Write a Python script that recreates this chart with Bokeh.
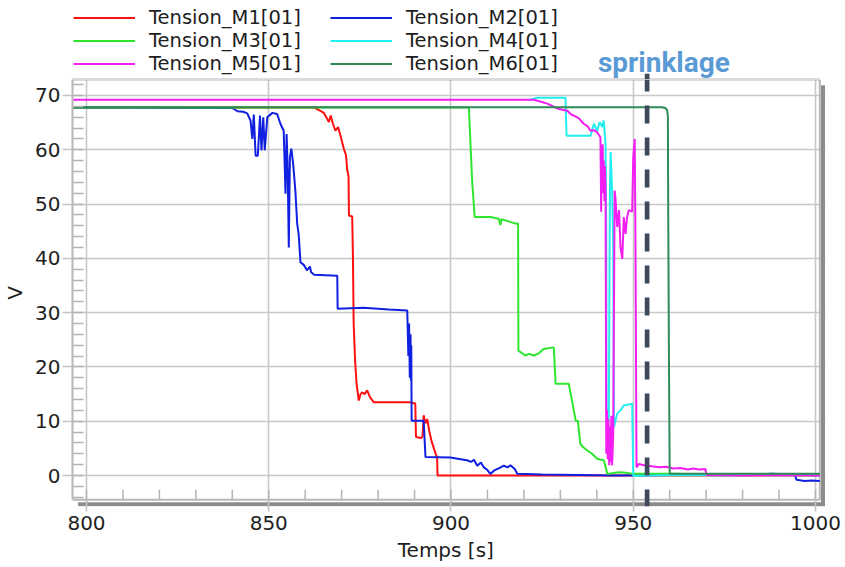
from bokeh.plotting import figure
from bokeh.models import Range1d, FixedTicker, Legend, LegendItem, Label, ColumnDataSource
from bokeh.layouts import column
from bokeh.embed import file_html
from bokeh.resources import INLINE

# ---------------- data ----------------
x_ticks = [800, 850, 900, 950, 1000]
y_ticks = [0, 10, 20, 30, 40, 50, 60, 70]
x_minor = list(range(800, 1001, 10))
y_minor = list(range(-4, 73, 2))

labels = ["Tension_M1[01]", "Tension_M2[01]", "Tension_M3[01]",
          "Tension_M4[01]", "Tension_M5[01]", "Tension_M6[01]"]
colors = ["#ff1010", "#1020e0", "#2ee62e", "#22eef0", "#f21ef2", "#2e8b57"]

t_m1 = [796.2, 862.4, 863.5, 864.3, 865.1, 865.8, 866.5, 867.0, 867.6, 868.3,
        869.0, 869.6, 870.6, 871.2, 871.5, 871.9, 872.0, 872.9, 873.1, 873.3,
        873.7, 874.1, 874.7, 875.2, 875.6, 876.3, 877.0, 877.8, 878.8, 888.8,
        889.8, 890.2, 890.4, 891.8, 892.2, 892.5, 893.0, 893.5, 894.0, 894.6,
        895.3, 895.9, 896.2, 896.3, 1001.2]
v_m1 = [67.8, 67.8, 67.4, 67.1, 66.8, 66.0, 65.1, 66.3, 64.8, 63.5,
        64.2, 62.8, 60.2, 59.0, 56.5, 55.0, 47.9, 47.7, 40.0, 27.9,
        21.0, 16.9, 13.8, 15.0, 15.3, 15.0, 15.7, 14.4, 13.5, 13.5,
        13.3, 13.3, 7.1, 6.9, 7.2, 11.1, 9.6, 10.4, 8.3, 6.5,
        5.0, 3.8, 3.4, 0.0, 0.0]

t_m2 = [796.2, 840.0, 841.4, 843.0, 844.1, 845.0, 845.5, 845.9, 846.4, 847.0,
        847.6, 848.0, 848.5, 848.9, 849.6, 851.0, 852.3, 853.2, 854.1, 854.6,
        854.9, 855.2, 855.5, 855.8, 856.2, 856.7, 857.3, 857.8, 858.2, 858.7,
        859.6, 860.5, 861.3, 861.6, 862.4, 868.8, 868.9, 876.0, 883.0, 888.0,
        888.3, 888.5, 888.7, 888.9, 889.0, 889.1, 889.2, 892.5, 893.0, 899.9,
        902.6, 904.4, 905.5, 906.3, 907.2, 908.2, 909.0, 910.0, 910.8, 912.0,
        913.1, 914.5, 915.5, 916.3, 917.5, 918.2, 925.0, 935.0, 945.0, 960.0,
        970.0, 980.0, 988.0, 994.3, 994.8, 997.0, 999.0, 1001.2]
v_m2 = [67.8, 67.7, 67.1, 67.0, 66.7, 65.4, 62.0, 66.5, 58.9, 58.9,
        66.3, 59.9, 66.0, 59.9, 66.0, 66.8, 66.6, 64.8, 63.5, 51.9,
        62.9, 56.2, 42.0, 58.6, 60.2, 57.4, 52.5, 46.4, 44.5, 39.3,
        38.8, 37.8, 38.5, 37.5, 37.0, 36.8, 30.7, 30.9, 30.6, 30.4,
        22.0, 28.0, 18.0, 26.0, 17.5, 24.0, 10.1, 10.1, 3.4, 3.3,
        3.0, 2.8, 2.5, 2.9, 1.8, 2.4, 1.5, 1.0, 0.3, 1.0,
        1.3, 1.8, 1.5, 1.9, 1.2, 0.3, 0.2, 0.1, 0.0, 0.1,
        0.2, 0.1, 0.3, 0.2, -0.8, -1.0, -0.9, -1.0]

t_m3 = [796.2, 904.9, 905.8, 906.5, 910.8, 913.1, 913.6, 913.8, 915.4, 917.7,
        918.4, 918.5, 920.4, 921.4, 922.7, 924.1, 925.4, 928.2, 928.7, 932.3,
        933.2, 934.2, 934.8, 935.5, 936.3, 937.4, 938.7, 940.1, 941.9, 942.9,
        946.0, 948.0, 950.0, 960.0, 980.0, 1001.2]
v_m3 = [67.8, 67.8, 54.3, 47.6, 47.6, 47.3, 46.1, 47.2, 46.9, 46.4,
        46.4, 23.0, 22.1, 22.4, 22.1, 22.5, 23.3, 23.6, 16.9, 16.9,
        13.8, 10.1, 10.1, 5.8, 5.2, 4.6, 4.0, 3.1, 2.8, 0.3,
        0.6, 0.5, 0.3, 0.3, 0.2, 0.2]

t_m4 = [921.5, 923.6, 931.4, 931.7, 938.3, 939.2, 940.1, 940.8, 941.5,
        941.9, 942.4, 942.6, 942.7, 943.0, 943.3, 943.6, 943.8, 944.2, 944.5,
        944.7, 945.6, 946.5, 947.4, 949.7, 950.0, 955.0, 965.0, 975.0, 990.0,
        1001.2]
v_m4 = [69.2, 69.6, 69.6, 62.6, 62.6, 64.8, 63.5, 65.1, 64.2,
        65.4, 61.1, 45.0, 12.6, 8.5, 11.0, 52.5, 59.6, 52.5, 42.0,
        8.9, 11.4, 12.0, 12.9, 13.2, -0.1, 0.0, 0.1, 0.0, 0.1,
        0.0]

t_m5 = [796.2, 922.7, 924.5, 926.4, 928.0, 929.6, 931.9, 933.0, 933.7, 934.5,
        935.1, 936.4, 937.5, 938.3, 939.3, 940.1, 941.0, 941.2, 941.3, 941.5,
        941.6, 941.8, 941.9, 942.1, 942.2, 942.4, 942.6, 942.8, 943.0, 943.2,
        943.4, 943.6, 943.8, 944.0, 944.2, 944.5, 944.9, 945.1, 945.6, 946.1,
        946.5, 947.0, 947.4, 947.9, 948.3, 948.8, 949.7, 950.0, 950.4, 950.6,
        950.9, 951.5, 953.0, 955.0, 957.0, 959.0, 961.0, 963.0, 965.0, 966.5,
        968.0, 969.8, 970.1, 980.0, 990.0, 1001.2]
v_m5 = [69.2, 69.2, 68.9, 68.5, 68.0, 67.5, 67.2, 66.5, 66.3, 66.0,
        65.8, 64.8, 64.3, 63.5, 63.6, 63.2, 62.3, 48.6, 60.0, 54.0,
        61.0, 52.0, 58.0, 50.5, 57.0, 53.1, 4.0, 12.0, 3.0, 10.4,
        1.9, 9.0, 2.5, 11.0, 1.9, 7.5, 52.5, 51.3, 45.8, 48.9,
        42.0, 39.9, 47.6, 44.5, 47.6, 48.9, 48.6, 58.6, 62.0, 44.5,
        1.5, 2.1, 1.9, 1.7, 1.5, 1.6, 1.3, 1.4, 1.1, 1.3,
        1.1, 1.2, 0.1, 0.0, 0.1, 0.0]

t_m6 = [796.2, 957.9, 958.8, 959.3, 959.5, 959.6, 959.8, 960.0, 980.0, 1001.2]
v_m6 = [67.85, 67.85, 67.7, 67.3, 66.2, 48.0, 21.0, 0.3, 0.3, 0.3]

series_t = [t_m1, t_m2, t_m3, t_m4, t_m5, t_m6]
series_v = [v_m1, v_m2, v_m3, v_m4, v_m5, v_m6]

sprinkler_t = 953.8
sprinkler_text = "sprinklage"
x_label = "Temps  [s]"
y_label = "V"

# ---------------- geometry ----------------
FONT = "DejaVu Sans"
W = 845
HEAD_H = 79          # band above the plot box (legend + annotation)
MAIN_H = 488
ML, MR, MB = 72, 20, 61
PXX = 3.645          # px per second
PXY = 5.4286         # px per volt
XL = 796.16
XR = XL + (W - ML - MR) / PXX
YT = 72.947
YB = YT - (MAIN_H - MB) / PXY
BOX_R = 1001.18      # right edge of the drawn plot box
BOX_B = -4.476       # bottom edge of the drawn plot box
GRID = "#c8c8c8"
BOX = "#b8b8b8"
SHADOW = "#8c8c8c"
DASH = "#3e4a5c"
LW = 2.0

x_range = Range1d(XL, XR)

# ---------------- main plot ----------------
p = figure(width=W, height=MAIN_H, output_backend="svg", toolbar_location=None,
           x_range=x_range, y_range=Range1d(YB, YT),
           min_border_left=ML, min_border_right=MR,
           min_border_top=0, min_border_bottom=MB,
           x_axis_label=x_label, y_axis_label=y_label)
p.outline_line_color = None
p.background_fill_color = "white"
p.border_fill_color = "white"

xt = FixedTicker(ticks=x_ticks, minor_ticks=[])
yt = FixedTicker(ticks=y_ticks, minor_ticks=y_minor)
p.xaxis.ticker = xt
p.yaxis.ticker = yt
p.xgrid.ticker = xt
p.ygrid.ticker = yt
for g in (p.xgrid[0], p.ygrid[0]):
    g.grid_line_color = GRID
    g.grid_line_width = 1.6

for ax in (p.xaxis[0], p.yaxis[0]):
    ax.major_tick_line_color = "#c4c4c4"
    ax.major_tick_line_width = 1.6
    ax.minor_tick_line_color = "#b4b4b4"
    ax.minor_tick_line_width = 1.5
    ax.minor_tick_out = 0
    ax.major_label_text_font = FONT
    ax.major_label_text_font_size = "20px"
    ax.major_label_text_color = "#1e1e1e"
    ax.axis_label_text_font = FONT
    ax.axis_label_text_font_size = "20px"
    ax.axis_label_text_font_style = "normal"
    ax.axis_label_text_color = "#1e1e1e"

xa = p.xaxis[0]
xa.axis_line_color = None
xa.bounds = (XL, BOX_R)
xa.major_tick_in = 7
xa.major_tick_out = 5
xa.minor_tick_line_color = None
xa.major_label_standoff = 4
xa.axis_label_standoff = 5

ya = p.yaxis[0]
ya.axis_line_color = BOX          # left edge of the plot box
ya.axis_line_width = 2
ya.bounds = (BOX_B, YT)
ya.major_tick_in = 0
ya.major_tick_out = 10
ya.minor_tick_in = 11
ya.major_label_standoff = 2
ya.axis_label_standoff = 5

# plot box (top, right, bottom edges) and its drop shadow
p.line([XL, BOX_R, BOX_R, XL], [YT, YT, BOX_B, BOX_B], line_color=BOX, line_width=2)
p.quad(left=[XL + 5.6 / PXX, BOX_R + 1.2 / PXX],
       right=[BOX_R + 5.2 / PXX, BOX_R + 5.2 / PXX],
       top=[BOX_B - 2.4 / PXY, YT - 5.7 / PXY],
       bottom=[BOX_B - 6.4 / PXY, BOX_B - 6.4 / PXY],
       fill_color=SHADOW, line_color=None)
# minor x ticks inside the box bottom
p.segment(x0=x_minor, y0=[BOX_B] * len(x_minor), x1=x_minor,
          y1=[BOX_B + 10 / PXY] * len(x_minor), line_color="#b4b4b4", line_width=1.5)

sources = []
for t, v, c in zip(series_t, series_v, colors):
    assert len(t) == len(v)
    src = ColumnDataSource(dict(t=t, v=v))
    sources.append(src)
    p.line("t", "v", source=src, line_color=c, line_width=LW)

# sprinkler activation (dashed vertical)
p.line([sprinkler_t, sprinkler_t], [YT, YB], line_color=DASH, line_width=4.7,
       line_dash="18 14", line_dash_offset=6)

# ---------------- header band (legend + annotation) ----------------
h = figure(width=W, height=HEAD_H, output_backend="svg", toolbar_location=None,
           x_range=x_range, y_range=Range1d(YT, YT + HEAD_H / PXY),
           min_border_left=ML, min_border_right=MR,
           min_border_top=0, min_border_bottom=0,
           x_axis_location=None, y_axis_location=None)
h.outline_line_color = None
h.grid.visible = False
h.background_fill_color = "white"
h.border_fill_color = "white"

hr = []
for src, c in zip(sources, colors):
    hr.append(h.line("t", "v", source=src, line_color=c, line_width=LW))

h.line([XL, BOX_R], [YT, YT], line_color=BOX, line_width=2)
h.line([sprinkler_t, sprinkler_t], [YT + 5.7 / PXY, YT], line_color=DASH, line_width=4.7)
h.add_layout(Label(x=940.3, y=YT + (HEAD_H - 62) / PXY, text=sprinkler_text,
                   text_font="Roboto", text_font_size="28px", text_font_style="bold",
                   text_color="#5b9bd5", text_align="left",
                   text_baseline="middle"))


def make_legend(idx, loc):
    items = [LegendItem(label=labels[i], renderers=[hr[i]]) for i in idx]
    return Legend(items=items, location=loc, orientation="vertical",
                  padding=0, margin=0, spacing=0,
                  glyph_width=62, glyph_height=23, label_height=23,
                  label_standoff=14,
                  label_text_font=FONT, label_text_font_size="19.5px",
                  label_text_color="#1e1e1e",
                  background_fill_alpha=0.0, border_line_color=None)


h.add_layout(make_legend([0, 2, 4], (1, 4)))
h.add_layout(make_legend([1, 3, 5], (258, 4)))

layout = column(h, p, spacing=0)
open("out.html", "w").write(file_html(layout, INLINE))
